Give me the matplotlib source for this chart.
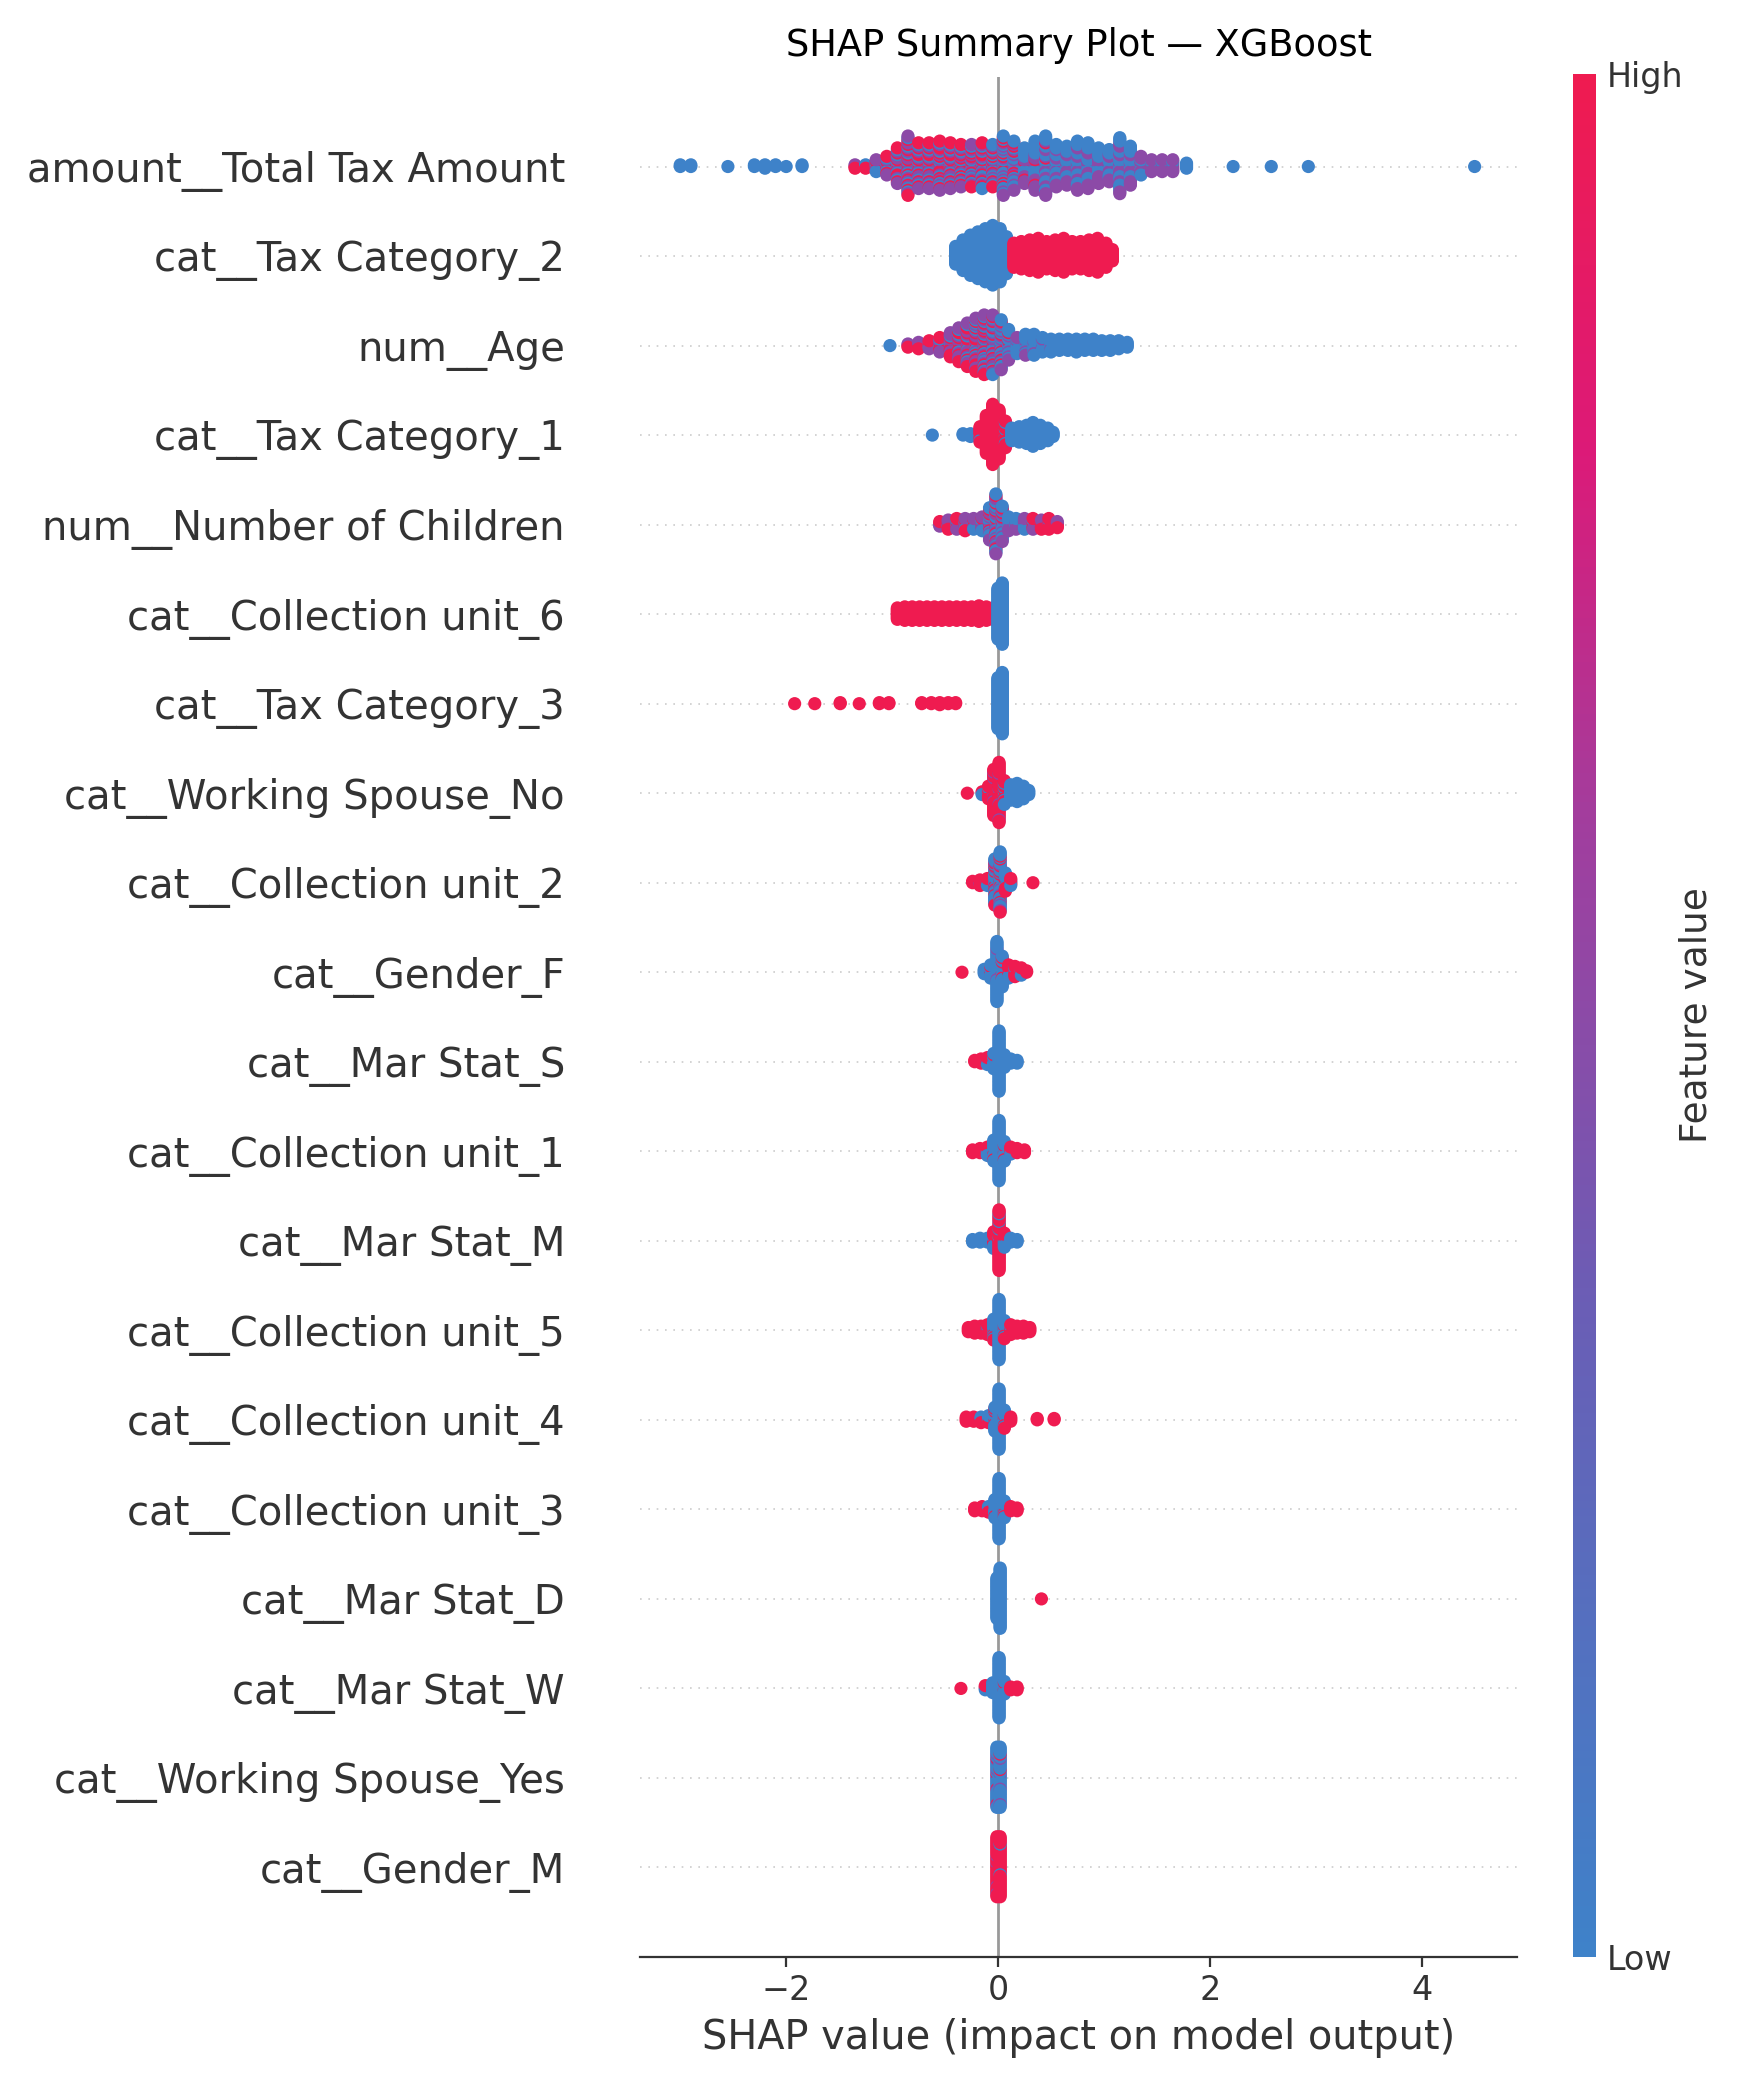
import numpy as np
import matplotlib
matplotlib.use("Agg")
import matplotlib.pyplot as plt
from matplotlib.colors import LinearSegmentedColormap, Normalize
from matplotlib.cm import ScalarMappable

# ---------------- data ----------------
features = [
    "amount__Total Tax Amount",
    "cat__Tax Category_2",
    "num__Age",
    "cat__Tax Category_1",
    "num__Number of Children",
    "cat__Collection unit_6",
    "cat__Tax Category_3",
    "cat__Working Spouse_No",
    "cat__Collection unit_2",
    "cat__Gender_F",
    "cat__Mar Stat_S",
    "cat__Collection unit_1",
    "cat__Mar Stat_M",
    "cat__Collection unit_5",
    "cat__Collection unit_4",
    "cat__Collection unit_3",
    "cat__Mar Stat_D",
    "cat__Mar Stat_W",
    "cat__Working Spouse_Yes",
    "cat__Gender_M",
]

# feature-value levels used for colouring (low / mid / high)
feat_low, feat_mid, feat_high = 0.0, 0.5, 1.0

# each entry: (SHAP value, n samples low, n samples mid, n samples high)
total_tax_amount = [
    (-3.0, 2, 0, 0), (-2.9, 2, 0, 0), (-2.55, 1, 0, 0), (-2.3, 2, 0, 0),
    (-2.2, 3, 0, 0), (-2.1, 2, 0, 0), (-2.0, 1, 0, 0), (-1.85, 2, 0, 0),
    (-1.35, 0, 1, 2), (-1.25, 1, 0, 2), (-1.15, 3, 3, 2), (-1.05, 4, 4, 4),
    (-0.95, 6, 8, 8), (-0.85, 10, 14, 12), (-0.75, 8, 10, 10), (-0.65, 8, 10, 10),
    (-0.55, 8, 10, 12), (-0.45, 8, 10, 10), (-0.35, 8, 8, 10), (-0.25, 8, 10, 8),
    (-0.15, 10, 8, 10), (-0.05, 10, 8, 8), (0.05, 18, 10, 8), (0.15, 14, 10, 6),
    (0.25, 12, 8, 2), (0.35, 16, 12, 2), (0.45, 20, 14, 2), (0.55, 16, 10, 0),
    (0.65, 14, 10, 0), (0.75, 18, 12, 0), (0.85, 16, 12, 0), (0.95, 12, 10, 0),
    (1.05, 12, 8, 0), (1.15, 20, 14, 0), (1.25, 14, 10, 0), (1.35, 4, 8, 0),
    (1.45, 2, 6, 0), (1.55, 2, 6, 0), (1.65, 2, 6, 0), (1.78, 4, 0, 0),
    (2.22, 1, 0, 0), (2.58, 1, 0, 0), (2.93, 1, 0, 0), (4.5, 1, 0, 0),
]
tax_category_2 = [
    (-0.4, 12, 0, 0), (-0.33, 20, 0, 0), (-0.26, 26, 0, 0), (-0.19, 30, 0, 0),
    (-0.12, 34, 0, 0), (-0.05, 38, 0, 0), (0.02, 34, 0, 0), (0.08, 24, 0, 0),
    (0.15, 0, 0, 16), (0.22, 0, 0, 18), (0.3, 0, 0, 20), (0.38, 0, 0, 22),
    (0.46, 0, 0, 18), (0.54, 0, 0, 20), (0.62, 0, 0, 22), (0.7, 0, 0, 18),
    (0.78, 0, 0, 18), (0.86, 0, 0, 20), (0.94, 0, 0, 22), (1.02, 0, 0, 16),
    (1.08, 0, 0, 8),
]
age = [
    (-1.02, 1, 0, 0), (-0.85, 0, 1, 2), (-0.75, 0, 2, 3), (-0.65, 1, 2, 3),
    (-0.55, 2, 4, 4), (-0.45, 2, 8, 6), (-0.37, 4, 10, 8), (-0.29, 6, 12, 10),
    (-0.21, 8, 14, 12), (-0.13, 12, 14, 12), (-0.05, 14, 14, 10), (0.03, 16, 10, 6),
    (0.1, 12, 6, 2), (0.18, 8, 3, 0), (0.26, 10, 4, 0), (0.34, 12, 2, 0),
    (0.42, 8, 2, 0), (0.5, 8, 1, 0), (0.58, 8, 0, 0), (0.66, 8, 0, 0),
    (0.74, 9, 0, 0), (0.82, 8, 0, 0), (0.9, 8, 0, 0), (0.98, 7, 0, 0),
    (1.06, 7, 0, 0), (1.14, 6, 0, 0), (1.22, 4, 0, 0),
]
tax_category_1 = [
    (-0.62, 1, 0, 0), (-0.33, 2, 0, 0), (-0.26, 3, 0, 0), (-0.17, 2, 0, 10),
    (-0.11, 0, 0, 28), (-0.05, 0, 0, 44), (0.01, 0, 0, 36), (0.07, 4, 0, 16),
    (0.13, 10, 0, 0), (0.2, 12, 0, 0), (0.27, 14, 0, 0), (0.33, 18, 0, 0),
    (0.4, 14, 0, 0), (0.47, 10, 0, 0), (0.52, 4, 0, 0),
]
number_of_children = [
    (-0.55, 0, 2, 2), (-0.47, 1, 3, 3), (-0.39, 2, 3, 3), (-0.31, 3, 3, 3),
    (-0.23, 3, 3, 2), (-0.15, 4, 4, 2), (-0.08, 10, 8, 4), (-0.02, 18, 14, 8),
    (0.04, 12, 8, 4), (0.1, 6, 4, 0), (0.17, 5, 3, 0), (0.25, 4, 4, 0),
    (0.33, 2, 3, 3), (0.41, 0, 2, 5), (0.48, 0, 2, 6), (0.56, 0, 2, 3),
]
collection_unit_6 = [
    (-0.95, 0, 0, 12), (-0.88, 0, 0, 14), (-0.81, 0, 0, 14), (-0.74, 0, 0, 14),
    (-0.67, 0, 0, 14), (-0.6, 0, 0, 14), (-0.53, 0, 0, 14), (-0.46, 0, 0, 14),
    (-0.39, 0, 0, 14), (-0.32, 0, 0, 14), (-0.25, 0, 0, 14), (-0.18, 0, 0, 16),
    (-0.11, 0, 0, 14), (-0.05, 0, 0, 12), (0.0, 50, 0, 0), (0.04, 60, 0, 0),
]
tax_category_3 = [
    (-1.92, 0, 0, 1), (-1.73, 0, 0, 1), (-1.49, 0, 0, 2), (-1.31, 0, 0, 1),
    (-1.12, 0, 0, 2), (-1.03, 0, 0, 2), (-0.72, 0, 0, 2), (-0.63, 0, 0, 2),
    (-0.55, 0, 0, 3), (-0.47, 0, 0, 2), (-0.4, 0, 0, 2),
    (0.0, 50, 0, 0), (0.04, 60, 0, 0),
]
working_spouse_no = [
    (-0.29, 0, 0, 1), (-0.15, 2, 0, 1), (-0.09, 2, 0, 8), (-0.04, 0, 4, 30),
    (0.01, 0, 4, 40), (0.06, 6, 0, 12), (0.12, 12, 0, 0), (0.18, 14, 0, 0),
    (0.24, 10, 0, 0), (0.29, 4, 0, 0),
]
collection_unit_2 = [
    (-0.24, 0, 0, 2), (-0.17, 0, 1, 4), (-0.1, 2, 0, 4), (-0.03, 22, 4, 8),
    (0.02, 28, 6, 10), (0.07, 8, 0, 6), (0.12, 2, 0, 4), (0.33, 0, 0, 1),
]
gender_f = [
    (-0.34, 0, 0, 1), (-0.13, 4, 0, 0), (-0.07, 8, 0, 2), (-0.01, 40, 2, 0),
    (0.04, 18, 0, 4), (0.1, 4, 0, 6), (0.16, 2, 0, 6), (0.22, 2, 0, 4),
    (0.27, 0, 0, 2),
]
mar_stat_s = [
    (-0.22, 0, 0, 2), (-0.16, 0, 0, 4), (-0.1, 2, 0, 4), (-0.04, 10, 0, 2),
    (0.01, 44, 0, 0), (0.06, 10, 0, 0), (0.12, 4, 0, 0), (0.18, 3, 0, 0),
]
collection_unit_1 = [
    (-0.24, 0, 0, 3), (-0.17, 0, 0, 4), (-0.1, 4, 0, 3), (-0.04, 14, 0, 2),
    (0.01, 44, 0, 0), (0.06, 12, 0, 3), (0.12, 2, 0, 4), (0.18, 0, 0, 4),
    (0.25, 0, 0, 3),
]
mar_stat_m = [
    (-0.24, 3, 0, 0), (-0.17, 4, 0, 0), (-0.1, 4, 0, 0), (-0.04, 6, 0, 8),
    (0.01, 4, 0, 44), (0.06, 6, 0, 6), (0.12, 4, 0, 0), (0.18, 3, 0, 0),
]
collection_unit_5 = [
    (-0.28, 0, 0, 4), (-0.22, 0, 0, 6), (-0.16, 0, 0, 6), (-0.1, 2, 0, 6),
    (-0.04, 12, 0, 4), (0.01, 44, 0, 0), (0.06, 10, 0, 4), (0.12, 2, 0, 6),
    (0.18, 0, 0, 6), (0.24, 0, 0, 6), (0.3, 0, 0, 4),
]
collection_unit_4 = [
    (-0.3, 0, 0, 4), (-0.23, 0, 0, 4), (-0.16, 2, 0, 3), (-0.09, 4, 0, 2),
    (-0.03, 14, 0, 4), (0.01, 44, 0, 0), (0.06, 10, 0, 4), (0.12, 0, 0, 4),
    (0.37, 0, 0, 2), (0.53, 0, 0, 2),
]
collection_unit_3 = [
    (-0.22, 0, 0, 3), (-0.15, 0, 0, 4), (-0.09, 2, 0, 3), (-0.03, 12, 0, 2),
    (0.01, 44, 0, 0), (0.06, 10, 0, 3), (0.12, 0, 0, 4), (0.18, 0, 0, 3),
]
mar_stat_d = [
    (-0.01, 30, 0, 0), (0.02, 44, 0, 0), (0.41, 0, 0, 1),
]
mar_stat_w = [
    (-0.35, 0, 0, 1), (-0.12, 2, 0, 2), (-0.05, 8, 0, 0), (0.01, 44, 0, 0),
    (0.06, 8, 0, 2), (0.12, 0, 0, 3), (0.18, 0, 0, 3),
]
working_spouse_yes = [
    (-0.01, 34, 6, 4), (0.02, 38, 4, 2),
]
gender_m = [
    (-0.01, 0, 4, 38), (0.02, 2, 0, 40),
]

rows = [
    total_tax_amount, tax_category_2, age, tax_category_1, number_of_children,
    collection_unit_6, tax_category_3, working_spouse_no, collection_unit_2,
    gender_f, mar_stat_s, collection_unit_1, mar_stat_m, collection_unit_5,
    collection_unit_4, collection_unit_3, mar_stat_d, mar_stat_w,
    working_spouse_yes, gender_m,
]

x_ticks = [-2, 0, 2, 4]
title = "SHAP Summary Plot \u2014 XGBoost"
x_label = "SHAP value (impact on model output)"
cbar_label = "Feature value"
cbar_ticklabels = ["Low", "High"]

# ---------------- figure ----------------
W, H = 1737, 2091
fig = plt.figure(figsize=(W / 100, H / 100), dpi=100)
ax = fig.add_axes([640 / W, 1 - 1957 / H, (1517 - 640) / W, (1957 - 77) / H])

cmap = LinearSegmentedColormap.from_list(
    "shap_like",
    [(0.0, "#3E82C9"), (0.35, "#6B5DB5"), (0.6, "#A13E9E"),
     (0.8, "#DC1A78"), (1.0, "#EF1B50")],
)


def bin_colors(lo, mid, hi):
    """Spread the colour groups of one bin evenly through its stack."""
    items = []
    for val, m in ((feat_low, lo), (feat_mid, mid), (feat_high, hi)):
        for k in range(m):
            items.append(((k + 0.5) / m, val))
    items.sort(key=lambda t: t[0])
    return [v for _, v in items]


n = len(features)
for i, row in enumerate(rows):
    pos = n - 1 - i
    ax.axhline(pos, color="#cccccc", lw=1.2, dashes=(1, 4), zorder=-1)
    counts = [lo + mid + hi for (_, lo, mid, hi) in row]
    maxlayer = max(int(np.ceil((k - 1) / 2)) for k in counts)
    scale = 0.9 * 0.4 / (maxlayer + 1)
    xs, ys, cs = [], [], []
    for (x, lo, mid, hi) in row:
        for j, c in enumerate(bin_colors(lo, mid, hi)):
            layer = int(np.ceil(j / 2)) * (1 if j % 2 else -1)
            xs.append(x)
            ys.append(pos + layer * scale)
            cs.append(c)
    ax.scatter(xs, ys, c=cs, cmap=cmap, vmin=0, vmax=1, s=90,
               linewidths=0, zorder=3)

ax.axvline(0, color="#999999", lw=2, zorder=-1)
ax.set_xlim(-3.38, 4.9)
ax.set_ylim(-1, n)
ax.set_yticks(range(n))
ax.set_yticklabels(features[::-1], fontsize=28.9, color="#333333")
ax.tick_params(axis="y", length=0, pad=54)
ax.set_xticks(x_ticks)
ax.tick_params(axis="x", colors="#333333", labelsize=24, length=7,
               width=1.6, pad=5)
for side in ("top", "right", "left"):
    ax.spines[side].set_visible(False)
ax.spines["bottom"].set_color("#333333")
ax.spines["bottom"].set_linewidth(1.6)
ax.set_xlabel(x_label, fontsize=28.7, color="#333333", labelpad=8)
ax.set_title(title, fontsize=26.5, pad=15)

cax = fig.add_axes([1573 / W, 1 - 1957 / H, 23 / W, (1957 - 74) / H])
cb = fig.colorbar(ScalarMappable(norm=Normalize(0, 1), cmap=cmap),
                  cax=cax, ticks=[0, 1])
cb.set_ticklabels(cbar_ticklabels)
cb.ax.tick_params(labelsize=24, length=0, pad=8, colors="#333333")
cb.outline.set_visible(False)
cb.set_label(cbar_label, size=27, labelpad=-4, color="#333333")

fig.savefig("out.png", dpi=100, facecolor="white")
